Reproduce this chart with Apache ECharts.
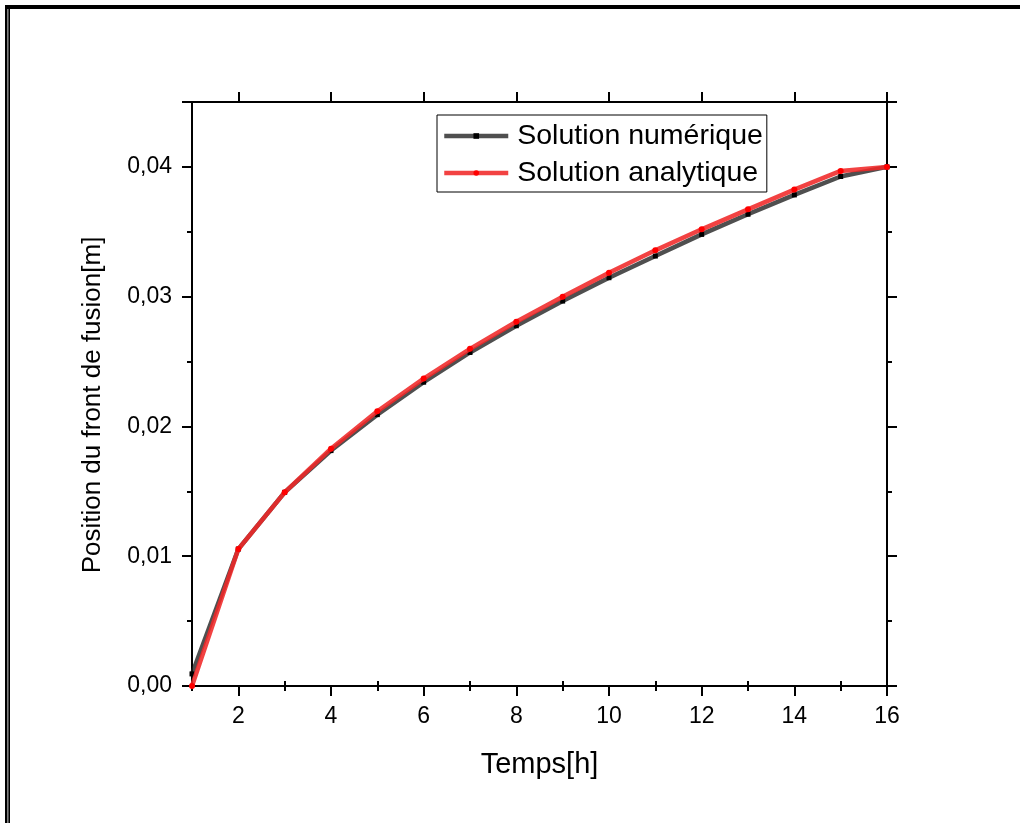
<!DOCTYPE html>
<html>
<head>
<meta charset="utf-8">
<script src="https://cdn.jsdelivr.net/npm/echarts@6/dist/echarts.min.js"></script>
<style>
html,body{margin:0;padding:0;background:#fff;}
#chart{width:1020px;height:823px;}
</style>
</head>
<body>
<div id="chart"></div>
<script>
// ---- data ----
const timeHours = [1, 2, 3, 4, 5, 6, 7, 8, 9, 10, 11, 12, 13, 14, 15, 16];
const numericalFront = [0.00093, 0.01055, 0.01492, 0.01814, 0.02091, 0.02341, 0.02570, 0.02776, 0.02966, 0.03146, 0.03313, 0.03480, 0.03635, 0.03784, 0.03926, 0.0400];
const analyticalFront = [0.0, 0.01055, 0.01492, 0.01829, 0.02117, 0.02369, 0.02598, 0.02807, 0.03000, 0.03185, 0.03357, 0.03519, 0.03673, 0.03825, 0.03969, 0.0400];
const seriesNames = ['Solution numérique', 'Solution analytique'];
const xMajorTicks = [2, 4, 6, 8, 10, 12, 14, 16];
const xMinorTicks = [1, 3, 5, 7, 9, 11, 13, 15];
const yLabelTicks = [0, 0.01, 0.02, 0.03, 0.04];
const xTitle = 'Temps[h]';
const yTitle = 'Position du front de fusion[m]';

const FONT = '"Liberation Sans", Arial, sans-serif';
const pairs = (ys) => timeHours.map((x, i) => [x, ys[i]]);

const chart = echarts.init(document.getElementById('chart'), null, {renderer: 'canvas'});

const grid = {left: 192, right: 133, top: 102, bottom: 137, containLabel: false};
const axisLine = {show: true, onZero: false, lineStyle: {color: '#000', width: 2}};

function xAx(position, ticks, len, showLabel, showLine, name) {
  const a = {
    type: 'value', position: position, min: 1, max: 16,
    axisLine: showLine ? axisLine : {show: false},
    axisTick: {show: true, inside: false, length: len, customValues: ticks, lineStyle: {color: '#000', width: 2}},
    axisLabel: showLabel ? {show: true, customValues: xMajorTicks, margin: 19, color: '#000', fontSize: 23, fontFamily: FONT} : {show: false},
    splitLine: {show: false}
  };
  if (name) {
    a.name = name; a.nameLocation = 'middle'; a.nameGap = 64;
    a.nameTextStyle = {color: '#000', fontSize: 29, fontFamily: FONT};
  }
  return a;
}

function yAx(position, showLabel, name) {
  const a = {
    type: 'value', position: position, min: 0, max: 0.045, interval: 0.01,
    axisLine: axisLine,
    axisTick: {show: true, inside: false, length: 10, lineStyle: {color: '#000', width: 2}},
    minorTick: {show: true, splitNumber: 2, length: 5, lineStyle: {color: '#000', width: 2}},
    axisLabel: showLabel ? {show: true, customValues: yLabelTicks, margin: 20, color: '#000', fontSize: 23, fontFamily: FONT,
      formatter: v => Number(v).toFixed(2).replace('.', ',')} : {show: false},
    splitLine: {show: false}
  };
  if (name) {
    a.name = name; a.nameLocation = 'middle'; a.nameGap = 86;
    a.nameTextStyle = {color: '#000', fontSize: 26, fontFamily: FONT, padding: [0, 22, 0, 0]};
  }
  return a;
}

const option = {
  backgroundColor: '#fff',
  animation: false,
  grid: grid,
  xAxis: [
    xAx('bottom', xMajorTicks, 10, true, true, xTitle),
    xAx('bottom', xMinorTicks, 5, false, false),
    xAx('top', xMajorTicks, 10, false, true),
    xAx('top', xMinorTicks, 5, false, false)
  ],
  yAxis: [
    yAx('left', true, yTitle),
    yAx('right', false)
  ],
  legend: {
    show: true,
    left: 437, top: 115,
    orient: 'vertical',
    padding: [6, 4, 4, 5],
    borderColor: '#000', borderWidth: 1,
    backgroundColor: '#fff',
    itemWidth: 64, itemHeight: 7,
    itemGap: 7,
    lineStyle: {width: 4.5},
    textStyle: {color: '#000', fontSize: 28.5, fontFamily: FONT, lineHeight: 30, padding: [0, 0, 0, 4]},
    data: seriesNames
  },
  series: [
    {
      name: seriesNames[0], type: 'line', xAxisIndex: 0, yAxisIndex: 0,
      data: pairs(numericalFront),
      symbol: 'rect', symbolSize: 5,
      itemStyle: {color: '#000'},
      lineStyle: {color: 'rgba(30,30,30,0.78)', width: 4.5},
      z: 2
    },
    {
      name: seriesNames[1], type: 'line', xAxisIndex: 0, yAxisIndex: 0,
      data: pairs(analyticalFront),
      symbol: 'circle', symbolSize: 6,
      itemStyle: {color: '#ff0000'},
      lineStyle: {color: 'rgba(240,40,40,0.88)', width: 4.5},
      z: 3
    }
  ],
  graphic: [
    {type: 'rect', shape: {x: 5, y: 5, width: 1015, height: 4}, style: {fill: '#000'}, silent: true},
    {type: 'rect', shape: {x: 5, y: 5, width: 2.5, height: 818}, style: {fill: '#000'}, silent: true},
    {type: 'rect', shape: {x: 8.3, y: 9, width: 1.7, height: 814}, style: {fill: '#000'}, silent: true}
  ]
};
chart.setOption(option);
</script>
</body>
</html>
